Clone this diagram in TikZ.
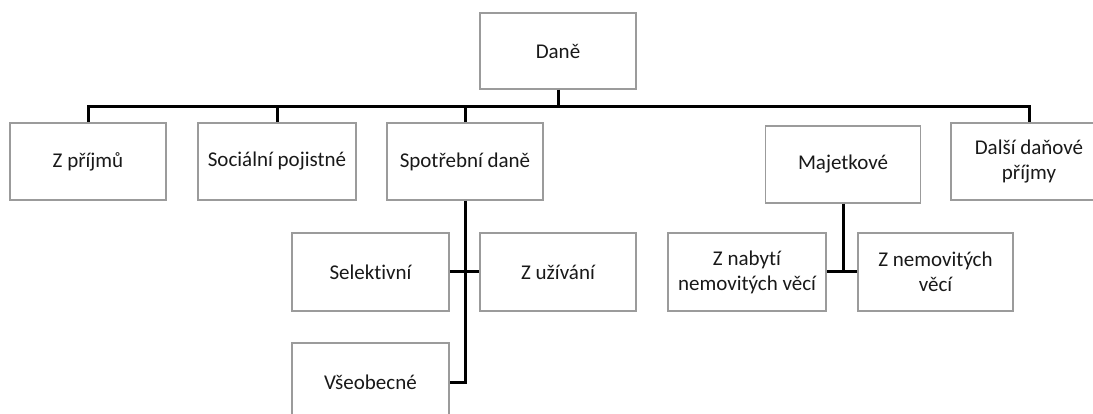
\documentclass[tikz,border=0pt]{standalone}
\usepackage{fontspec}
\setmainfont[Ligatures=NoCommon]{Carlito}
\begin{document}
\begin{tikzpicture}[x=1pt,y=-1pt,
  box/.style={draw=boxgray, line width=1.5pt, fill=white, align=center,
    inner sep=2pt, text=black!90, font=\fontsize{21}{25}\selectfont},
  conn/.style={line width=3pt, black}]
\definecolor{boxgray}{RGB}{155,155,155}
\useasboundingbox (0,0) rectangle (1093,414);
\begin{scope}
\clip (0,0) rectangle (1093,414);
% level 0
\node[box, minimum width=156pt, minimum height=76pt] (dane) at (558,51) {Daně};
% level 1
\node[box, minimum width=156pt, minimum height=77pt] (zp) at (88,161.5) {Z příjmů};
\node[box, minimum width=158pt, minimum height=77pt] (soc) at (277,161.5) {Sociální pojistné};
\node[box, minimum width=156pt, minimum height=77pt] (spd) at (465,161.5) {Spotřební daně};
\node[box, minimum width=155pt, minimum height=77pt] (maj) at (843,164.5) {Majetkové};
\node[box, minimum width=156pt, minimum height=77pt] (dal) at (1029,161.5) {Další daňové\\příjmy};
% level 2
\node[box, minimum width=157pt, minimum height=78pt] (sel) at (370.5,272) {Selektivní};
\node[box, minimum width=156pt, minimum height=78pt] (zuz) at (558,272) {Z užívání};
\node[box, minimum width=157pt, minimum height=78pt] (vse) at (370.5,382) {Všeobecné};
\node[box, minimum width=158pt, minimum height=78pt] (zn) at (747,272) {Z nabytí\\nemovitých věcí};
\node[box, minimum width=155pt, minimum height=78pt] (znv) at (935.5,272) {Z nemovitých\\věcí};
% connectors
\coordinate (bus) at (558,106.5);
\draw[conn] (dane.south) -- (bus);
\draw[conn] (zp.north) -- (zp.north |- bus) -| (dal.north);
\draw[conn] (soc.north) -- (soc.north |- bus);
\draw[conn] (spd.north) -- (spd.north |- bus);
\draw[conn] (spd.south) -- (spd.south |- vse.east) -- (vse.east);
\draw[conn] (sel.east) -- (zuz.west);
\draw[conn] (maj.south) -- (maj.south |- zn.east);
\draw[conn] (zn.east) -- (znv.west);
\end{scope}
\end{tikzpicture}
\end{document}
